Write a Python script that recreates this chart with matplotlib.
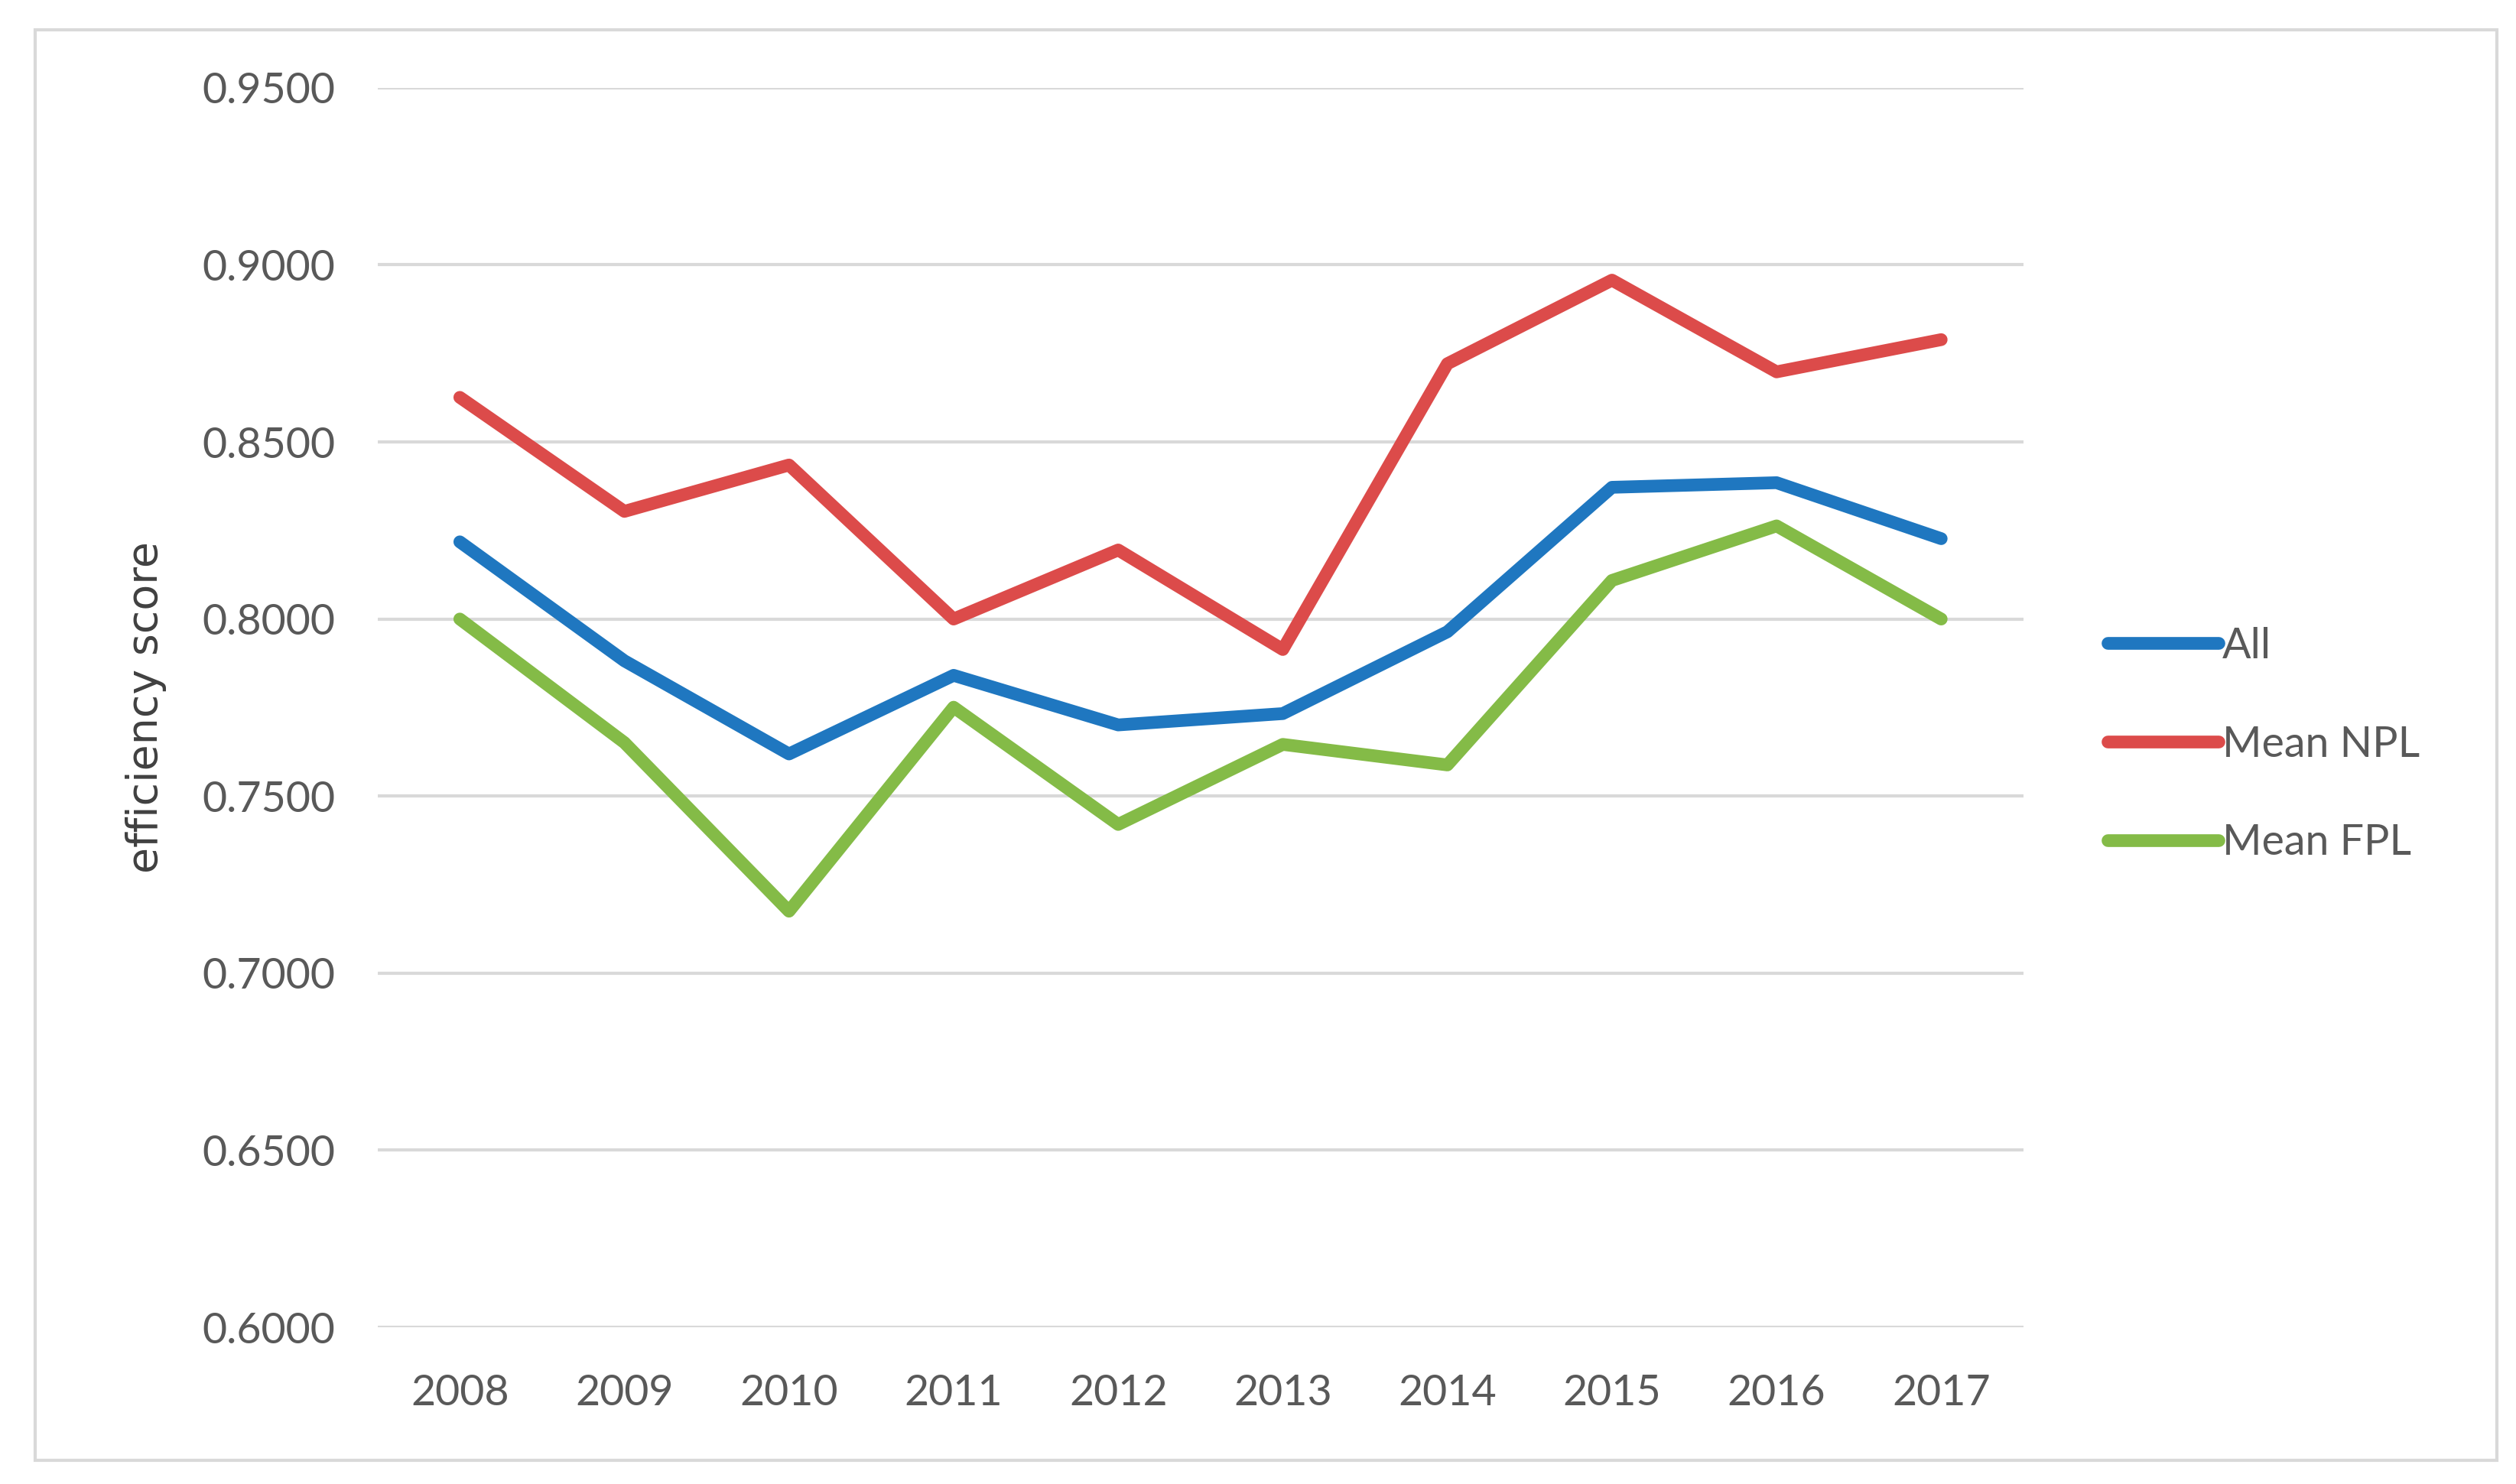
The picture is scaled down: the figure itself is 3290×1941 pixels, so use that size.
import matplotlib
matplotlib.use('Agg')
import matplotlib.pyplot as plt
from matplotlib.patches import Rectangle

# data
years = ['2008', '2009', '2010', '2011', '2012', '2013', '2014', '2015', '2016', '2017']
allBanks = [0.8218, 0.7882, 0.7619, 0.7841, 0.7701, 0.7733, 0.7964, 0.8372, 0.8385, 0.8227]
meanNPL = [0.8626, 0.8304, 0.8435, 0.8000, 0.8195, 0.7914, 0.8721, 0.8957, 0.8698, 0.8789]
meanFPL = [0.8000, 0.7651, 0.7175, 0.7751, 0.7420, 0.7646, 0.7588, 0.8109, 0.8263, 0.8000]
yTicks = [0.60, 0.65, 0.70, 0.75, 0.80, 0.85, 0.90, 0.95]

plt.rcParams['font.family'] = ['Lato', 'DejaVu Sans']

fig = plt.figure(figsize=(32.91, 19.41), dpi=100)
ax = fig.add_axes([0.150, 0.1056, 0.654, 0.8352])

x = range(len(years))
ax.plot(x, allBanks, color='#1f77c0', linewidth=12, solid_capstyle='round', label='All', zorder=3)
ax.plot(x, meanNPL, color='#dc4b4a', linewidth=12, solid_capstyle='round', label='Mean NPL', zorder=3)
ax.plot(x, meanFPL, color='#84bb47', linewidth=12, solid_capstyle='round', label='Mean FPL', zorder=3)

ax.set_ylim(0.60, 0.95)
ax.set_xlim(-0.5, len(years) - 0.5)
ax.set_yticks(yTicks)
ax.set_yticklabels(['%.4f' % t for t in yTicks])
ax.set_xticks(list(x))
ax.set_xticklabels(years)
ax.tick_params(axis='both', length=0, labelsize=40, labelcolor='#595959')
ax.tick_params(axis='y', pad=40)
ax.tick_params(axis='x', pad=44)
ax.grid(axis='y', color='#d9d9d9', linewidth=3)
ax.set_axisbelow(True)
for s in ax.spines.values():
    s.set_visible(False)

ax.set_ylabel('efficiency score', fontsize=40, color='#404040',
              family=['DejaVu Sans'])
ax.yaxis.set_label_coords(-0.128, 0.5)

leg = ax.legend(loc='center left', bbox_to_anchor=(1.028, 0.47), frameon=False,
                fontsize=40, handlelength=2.6, handletextpad=0.1, labelspacing=1.4)
for t in leg.get_texts():
    t.set_color('#595959')

# outer border of the chart
fig.patches.append(Rectangle((0.014, 0.016), 0.978, 0.964, transform=fig.transFigure,
                             fill=False, edgecolor='#d9d9d9', linewidth=3))

fig.savefig('out.png', dpi=100, facecolor='white')
